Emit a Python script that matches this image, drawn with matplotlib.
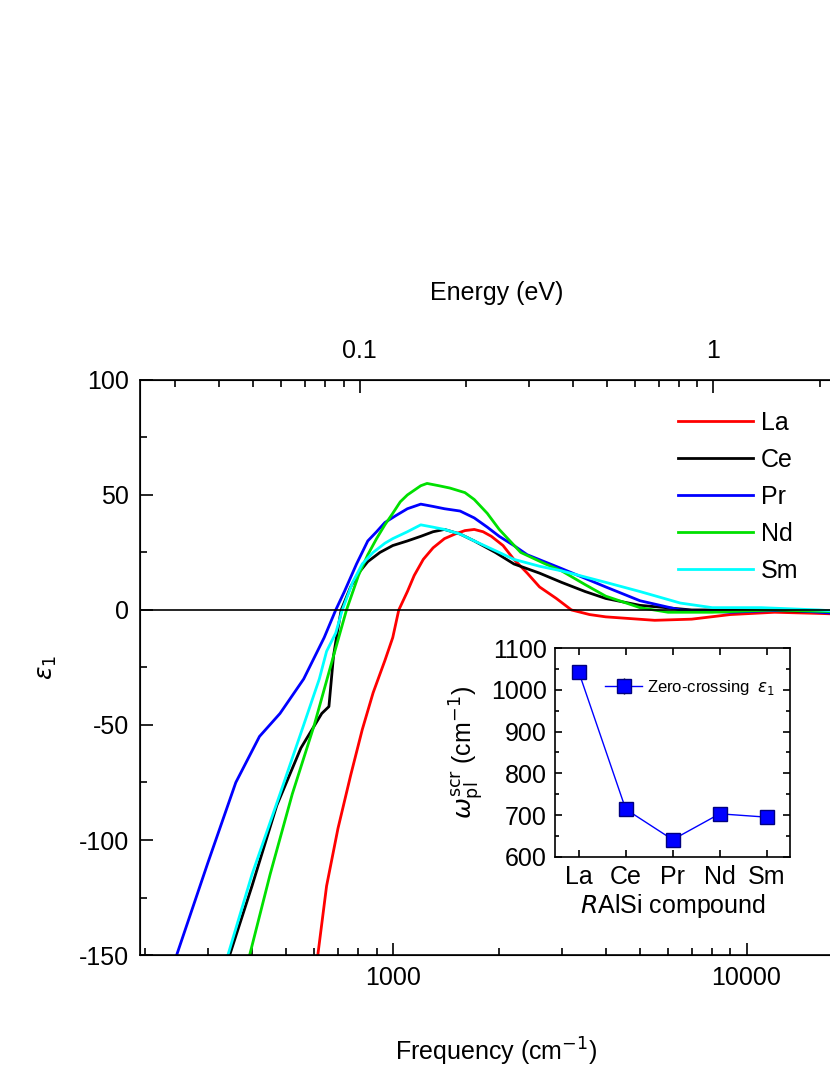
import matplotlib
matplotlib.use("Agg")
import matplotlib.pyplot as plt
import numpy as np
from matplotlib.ticker import FixedLocator, NullFormatter, MultipleLocator

plt.rcParams["font.family"] = "Liberation Sans"
plt.rcParams["axes.unicode_minus"] = False

la_f = [614,650,700,760,820,880,950,1000,1040,1100,1150,1220,1300,1400,1500,1600,1700,1800,1900,2050,2200,2400,2600,2900,3200,3600,4000,5500,7000,9000,12000,16000,20000]
la_e = [-150,-120,-95,-72,-52,-36,-22,-12,0,8,15,22,27,31,33,34.5,35,34,32,28,22,16,10,5,0,-2,-3,-4.5,-4,-2,-1,-1.5,-2]
ce_f = [346,400,470,550,630,660,680,700,715,760,800,850,920,1000,1100,1200,1300,1400,1550,1700,1950,2200,2600,3000,3500,4000,5000,7000,10000,20000]
ce_e = [-150,-120,-85,-60,-45,-42,-20,-8,0,10,16,21,25,28,30,32,34,35,33,30,25,20,16,12,8,5,2,0,0,-1]
pr_f = [245,300,360,420,480,560,640,690,730,790,850,900,950,1020,1100,1200,1300,1400,1550,1700,1850,2000,2200,2400,3000,4000,5000,6500,9000,13000,20000]
pr_e = [-150,-110,-75,-55,-45,-30,-12,0,8,20,30,34,38,41,44,46,45,44,43,40,36,32,28,24,18,10,4,0,-1,0,-2]
nd_f = [394,450,520,600,680,740,800,850,900,950,1000,1050,1100,1200,1250,1350,1450,1600,1700,1850,2000,2300,2700,3000,3500,4000,5000,6000,8000,12000,20000]
nd_e = [-150,-115,-80,-50,-20,0,15,24,31,37,42,47,50,54,55,54,53,51,48,42,35,25,20,17,11,6,1,-1,-1,0,-1]
sm_f = [342,400,480,560,620,650,690,720,770,820,880,950,1000,1100,1200,1300,1400,1550,1700,2000,2200,2600,3000,4000,5000,6500,8000,11000,16000,20000]
sm_e = [-150,-115,-80,-50,-30,-18,-10,0,12,20,25,29,31,34,37,36,35,33,30,25,22,19,17,12,8,3,1,1,0,-1]

compounds = ["La", "Ce", "Pr", "Nd", "Sm"]
wpl = [1043, 714, 641, 703, 695]
wpl_err = [8, 8, 8, 8, 8]

FS = 18
fig = plt.figure(figsize=(8.3, 10.75), dpi=100)
ax = fig.add_axes([0.1687, 0.1116, 0.859, 0.535])
ax.plot(la_f, la_e, color="#ff0000", lw=2, label="La")
ax.plot(ce_f, ce_e, color="black", lw=2, label="Ce")
ax.plot(pr_f, pr_e, color="#0000ff", lw=2, label="Pr")
ax.plot(nd_f, nd_e, color="#00e000", lw=2, label="Nd")
ax.plot(sm_f, sm_e, color="#00ffff", lw=2, label="Sm")
ax.axhline(0, color="black", lw=1.2)
ax.set_xscale("log")
ax.set_xlim(193, 20000)
ax.set_ylim(-150, 100)
ax.yaxis.set_major_locator(MultipleLocator(50))
ax.yaxis.set_minor_locator(MultipleLocator(25))
ax.set_xticks([1000, 10000])
ax.set_xticklabels(["1000", "10000"])
ax.tick_params(labelsize=FS, direction="in", length=9, width=1.2, pad=8)
ax.tick_params(which="minor", direction="in", length=5, width=1.2)
ax.set_xlabel("Frequency (cm$^{-1}$)", fontsize=FS, labelpad=33)
ax.set_ylabel(r"$\varepsilon_1$", fontsize=FS, labelpad=14)
for s in ax.spines.values():
    s.set_linewidth(1.2)
ax.legend(loc="upper right", bbox_to_anchor=(0.955, 0.985), frameon=False, fontsize=FS,
          handlelength=3.0, labelspacing=0.52, handletextpad=0.3)

ev = 8065.54
ax2 = ax.twiny()
ax2.set_xscale("log")
ax2.set_xlim(193 / ev, 20000 / ev)
ax2.set_xticks([0.1, 1])
ax2.set_xticklabels(["0.1", "1"])
minors = [m * d for d in (0.01, 0.1, 1) for m in range(2, 10)]
ax2.xaxis.set_minor_locator(FixedLocator(minors))
ax2.xaxis.set_minor_formatter(NullFormatter())
ax2.tick_params(labelsize=FS, direction="in", length=9, width=1.2, pad=12)
ax2.tick_params(which="minor", direction="in", length=5, width=1.2)
ax2.set_xlabel("Energy (eV)", fontsize=FS, labelpad=28)

ins = fig.add_axes([0.669, 0.203, 0.283, 0.194])
x = np.arange(len(compounds))
ins.errorbar(x, wpl, yerr=wpl_err, color="#0000ff", lw=1, marker="s", ms=10,
             mfc="#0000ff", mec="#000080", ecolor="black", capsize=0, label=r"Zero-crossing  $\varepsilon_1$")
ins.set_xlim(-0.5, 4.5)
ins.set_ylim(600, 1100)
ins.set_xticks(x)
ins.set_xticklabels(compounds)
ins.yaxis.set_major_locator(MultipleLocator(100))
ins.yaxis.set_minor_locator(MultipleLocator(50))
ins.tick_params(labelsize=FS, direction="in", length=5, width=1.2, right=True, top=True, which="both", pad=6)
ins.tick_params(which="minor", length=3)
ins.set_xlabel(r"$R$AlSi compound", fontsize=FS, labelpad=2)
ins.set_ylabel(r"$\omega_{\rm pl}^{\rm scr}$ (cm$^{-1}$)", fontsize=FS, labelpad=4)
ins.legend(loc="upper right", bbox_to_anchor=(1.0, 0.93), frameon=False, fontsize=12, handlelength=2.2,
           handletextpad=0.3)
for s in ins.spines.values():
    s.set_linewidth(1.2)

fig.savefig("out.png", dpi=100)
